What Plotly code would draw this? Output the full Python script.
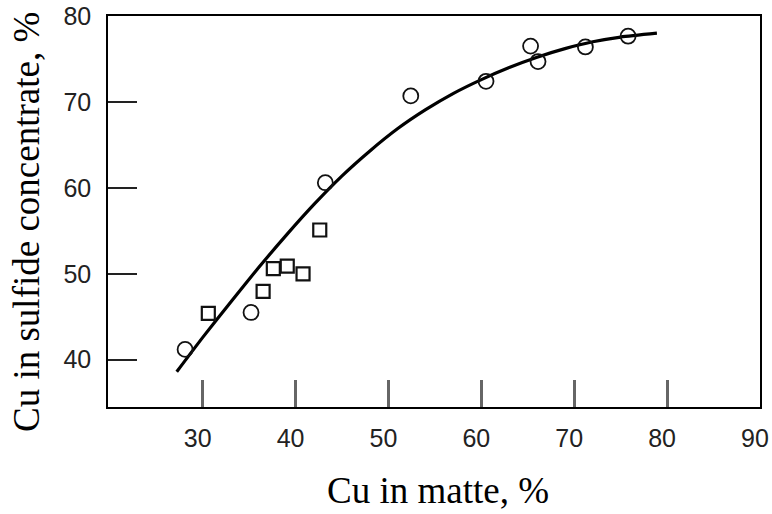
import plotly.graph_objects as go

# Fitted curve
curve_x = [27.2, 30, 33, 36, 39, 42, 45, 48, 51, 54, 57, 60, 63, 66, 69, 72, 75, 78.9]
curve_y = [38.6, 42.6, 46.7, 50.7, 54.5, 58.1, 61.4, 64.3, 66.9, 69.1, 71.0, 72.6, 74.0, 75.2, 76.2, 77.0, 77.55, 78.0]

# Open circles
circ_x = [28.1, 35.2, 43.2, 52.4, 60.5, 65.3, 66.1, 71.2, 75.8]
circ_y = [41.2, 45.5, 60.6, 70.7, 72.4, 76.5, 74.7, 76.4, 77.65]

# Open squares
sq_x = [30.6, 36.5, 37.6, 39.1, 40.8, 42.6]
sq_y = [45.4, 47.95, 50.6, 50.9, 50.0, 55.1]

x_ticks = [30, 40, 50, 60, 70, 80, 90]
x_ticktext = ["30", "40", "50", "60", "70", "80", "90"]
y_ticks = [40, 50, 60, 70, 80]
y_ticktext = ["40", "50", "60", "70", "80"]

x_title = "Cu in matte, %"
y_title = "Cu in sulfide concentrate, %"

fig = go.Figure()
fig.add_trace(go.Scatter(x=curve_x, y=curve_y, mode="lines",
                         line=dict(color="black", width=3.2, shape="spline", smoothing=0.6),
                         showlegend=False, hoverinfo="skip"))
fig.add_trace(go.Scatter(x=circ_x, y=circ_y, mode="markers",
                         marker=dict(symbol="circle-open", size=15, color="#111",
                                     line=dict(width=1.8, color="#111")),
                         showlegend=False))
fig.add_trace(go.Scatter(x=sq_x, y=sq_y, mode="markers",
                         marker=dict(symbol="square-open", size=13, color="#111",
                                     line=dict(width=2.2, color="#111")),
                         showlegend=False))

tick_font = dict(family="Liberation Sans, Arial, sans-serif", size=25, color="#222")
title_font = dict(family="Liberation Serif, Times New Roman, serif", size=37, color="black")

W, H = 772, 514
L, T = 108, 16
R = W - 760
B = H - 407
pw, ph = W - L - R, H - T - B

fig.update_layout(
    width=W, height=H,
    margin=dict(l=L, r=R, t=T, b=B, autoexpand=False),
    paper_bgcolor="white", plot_bgcolor="white",
    font=dict(family="Liberation Serif, serif"),
)
fig.update_xaxes(
    range=[19.8, 90.0], tickvals=x_ticks, ticktext=x_ticktext,
    ticks="inside", ticklen=27, tickwidth=2.5, tickcolor="#666",
    showline=True, linecolor="black", linewidth=1.6, mirror=True,
    showgrid=False, zeroline=False, tickfont=tick_font, ticklabelstandoff=8,
    ticklabelshift=-5, ticklabeloverflow="allow", automargin=False,
)
fig.update_yaxes(
    range=[34.5, 80.0], tickvals=y_ticks, ticktext=y_ticktext,
    ticks="inside", ticklen=29, tickwidth=1.5, tickcolor="#222",
    showline=True, linecolor="black", linewidth=1.6, mirror=True,
    showgrid=False, zeroline=False, tickfont=tick_font, ticklabelstandoff=10,
    ticklabeloverflow="allow", automargin=False,
)

fig.add_annotation(text=x_title, xref="paper", yref="paper",
                   x=(438 - L) / pw, y=-(490 - 407) / ph,
                   xanchor="center", yanchor="middle", showarrow=False, font=title_font)
fig.add_annotation(text=y_title, xref="paper", yref="paper", textangle=-90,
                   x=(27 - L) / pw, y=(407 - 222) / ph,
                   xanchor="center", yanchor="middle", showarrow=False, font=title_font)

# remove the default 8px page margin so the figure fills the window exactly
fig.write_html("out.html", config={"displayModeBar": False},
               post_script="document.body.style.margin='0';")
